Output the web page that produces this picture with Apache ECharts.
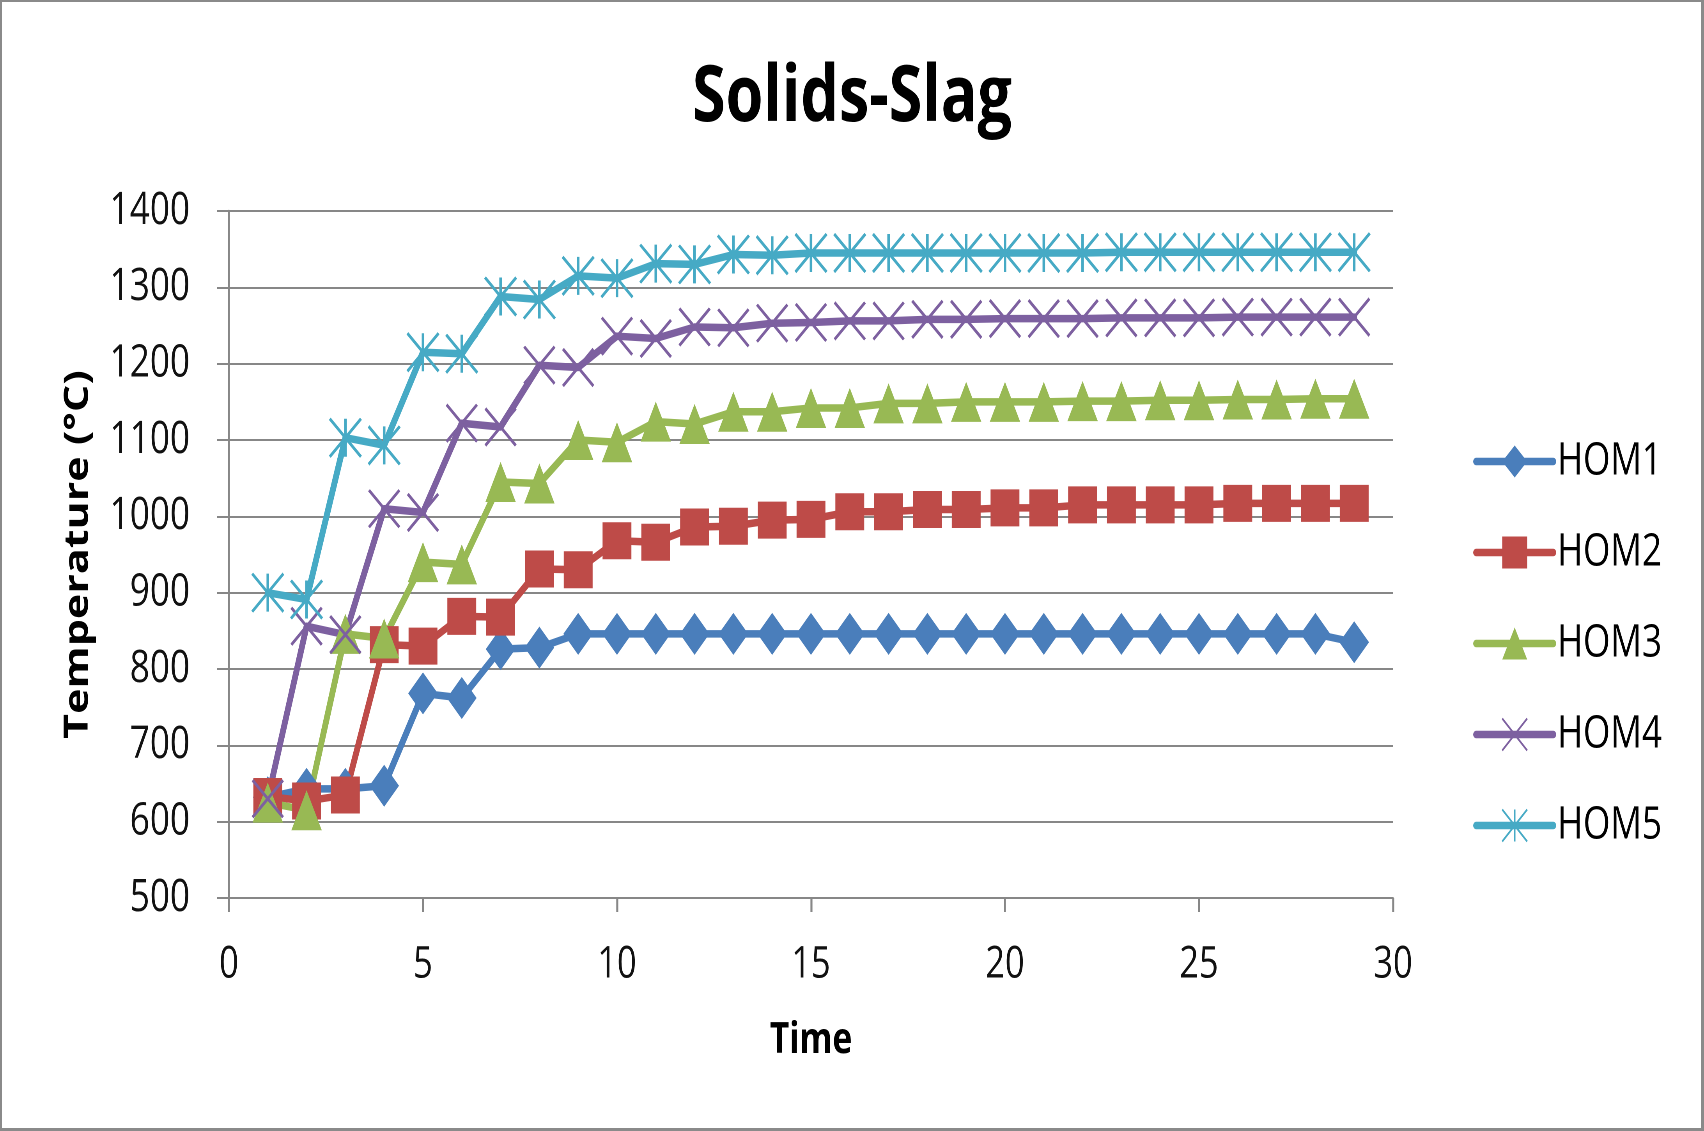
<!DOCTYPE html>
<html>
<head>
<meta charset="utf-8">
<title>Solids-Slag</title>
<script src="https://cdn.jsdelivr.net/npm/echarts@6/dist/echarts.min.js"></script>
<style>
  html, body { margin: 0; padding: 0; overflow: hidden; background: #ffffff; }
  /* chart is laid out wide and squeezed horizontally, giving the tall narrow lettering and markers */
  #chart { position: absolute; left: 0; top: 0; width: 2185px; height: 1131px;
           transform: scaleX(0.779862); transform-origin: 0 0; }
  #frame { position: absolute; left: 0; top: 0; width: 1704px; height: 1131px; box-sizing: border-box;
           border-style: solid; border-color: #8a8a8a; border-width: 2px 3px 3px 2px;
           pointer-events: none; z-index: 2; }
</style>
</head>
<body>
<div id="chart"></div>
<div id="frame"></div>
<script>
// Time steps
const time = [1, 2, 3, 4, 5, 6, 7, 8, 9, 10, 11, 12, 13, 14, 15, 16, 17, 18, 19, 20, 21, 22, 23, 24, 25, 26, 27, 28, 29];

// Temperature (°C) per series
const hom1 = [632, 643, 643, 647, 768, 762, 826, 828, 846, 846, 846, 846, 846, 846, 846, 846, 846, 846, 846, 846, 846, 846, 846, 846, 846, 846, 846, 846, 835];
const hom2 = [633, 627, 635, 832, 830, 869, 868, 931, 930, 968, 966, 986, 987, 995, 996, 1006, 1006, 1009, 1009, 1011, 1011, 1015, 1015, 1015, 1015, 1017, 1017, 1017, 1017];
const hom3 = [625, 615, 846, 840, 940, 937, 1045, 1043, 1100, 1097, 1124, 1121, 1137, 1137, 1142, 1142, 1148, 1148, 1150, 1150, 1150, 1151, 1151, 1152, 1152, 1153, 1153, 1154, 1154];
const hom4 = [630, 856, 845, 1010, 1005, 1122, 1117, 1198, 1195, 1236, 1233, 1248, 1247, 1253, 1254, 1256, 1256, 1258, 1258, 1259, 1259, 1259, 1260, 1260, 1260, 1261, 1261, 1261, 1261];
const hom5 = [900, 891, 1103, 1093, 1215, 1213, 1288, 1284, 1315, 1312, 1331, 1330, 1343, 1342, 1345, 1345, 1345, 1345, 1345, 1345, 1345, 1345, 1346, 1346, 1346, 1346, 1346, 1346, 1346];

const seriesNames = ['HOM1', 'HOM2', 'HOM3', 'HOM4', 'HOM5'];
const seriesValues = [hom1, hom2, hom3, hom4, hom5];

// Axis ranges
const xMin = 0, xMax = 30, xStep = 5;
const yMin = 500, yMax = 1400, yStep = 100;

// Marker and colour styling per series
const FONT = "'Open Sans', 'Liberation Sans', sans-serif";
const GRID_GRAY = '#878787';
const LINE_W = 7.5;
const styles = [
  { color: '#4A7EBB', symbol: 'diamond', size: [38, 42], outline: false },
  { color: '#BE4B48', symbol: 'rect', size: [37, 37], outline: false },
  { color: '#98B954', symbol: 'triangle', size: [39, 40], outline: false },
  { color: '#7D60A0', symbol: 'path://M0,0L10,10M10,0L0,10', size: [39, 37], outline: true },
  { color: '#46AAC5', symbol: 'path://M0,0L10,10M10,0L0,10M5,0L5,10', size: [40, 38], outline: true }
];

const series = seriesNames.map((name, i) => {
  const st = styles[i];
  return {
    name: name,
    type: 'line',
    data: time.map((t, k) => [t, seriesValues[i][k]]),
    symbol: st.symbol,
    symbolSize: st.size,
    showSymbol: true,
    clip: false,
    lineStyle: { color: st.color, width: LINE_W, cap: 'round', join: 'round' },
    itemStyle: st.outline
      ? { color: 'rgba(0,0,0,0)', borderColor: st.color, borderWidth: 3.2 }
      : { color: st.color, borderWidth: 0 },
    emphasis: { disabled: true }
  };
});

const chart = echarts.init(document.getElementById('chart'), null, { renderer: 'canvas', devicePixelRatio: 2 });

chart.setOption({
  animation: false,
  backgroundColor: '#ffffff',
  title: {
    text: 'Solids-Slag',
    left: 'center',
    top: 55,
    textStyle: { fontFamily: FONT, fontSize: 78, fontWeight: 'bold', color: '#000000' }
  },
  legend: {
    orient: 'vertical',
    left: 1884,
    top: 434,
    itemWidth: 99,
    itemHeight: 40,
    itemGap: 46,
    selectedMode: false,
    data: seriesNames,
    lineStyle: { width: LINE_W, cap: 'round' },
    textStyle: { fontFamily: FONT, fontSize: 45, color: '#000000', lineHeight: 42 }
  },
  grid: { left: 293.6, right: 398.8, top: 211, bottom: 233 },
  xAxis: {
    type: 'value',
    min: xMin,
    max: xMax,
    interval: xStep,
    name: 'Time',
    nameLocation: 'middle',
    nameGap: 121,
    nameTextStyle: { fontFamily: FONT, fontSize: 43, fontWeight: 'bold', color: '#000000' },
    axisLine: { show: true, onZero: false, lineStyle: { color: GRID_GRAY, width: 2 } },
    axisTick: { show: true, length: 14, lineStyle: { color: GRID_GRAY, width: 2.6 } },
    axisLabel: { margin: 45, fontFamily: FONT, fontSize: 44, color: '#111111' },
    splitLine: { show: false }
  },
  yAxis: {
    type: 'value',
    min: yMin,
    max: yMax,
    interval: yStep,
    name: 'Temperature (°C)',
    nameLocation: 'middle',
    nameRotate: 90,
    nameGap: 172,
    nameTextStyle: { fontFamily: FONT, fontSize: 43, fontWeight: 'bold', color: '#000000' },
    axisLine: { show: true, lineStyle: { color: GRID_GRAY, width: 2.6 } },
    axisTick: { show: true, length: 15.4, lineStyle: { color: GRID_GRAY, width: 2 } },
    axisLabel: { margin: 50, fontFamily: FONT, fontSize: 45, color: '#111111',
                 formatter: (v) => String(v) },
    splitLine: { show: true, lineStyle: { color: GRID_GRAY, width: 2 } }
  },
  tooltip: { show: false },
  series: series
});
</script>
</body>
</html>
